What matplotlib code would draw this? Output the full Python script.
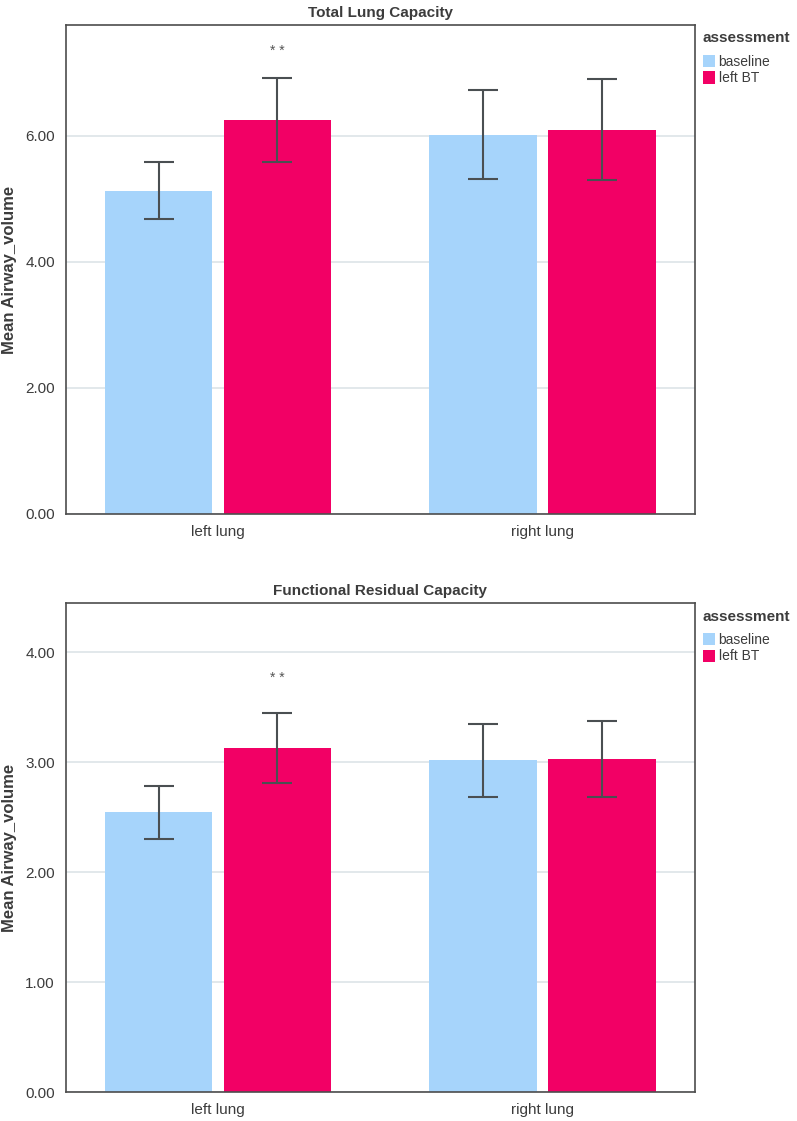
import numpy as np
import matplotlib
matplotlib.use("Agg")
import matplotlib.pyplot as plt
from matplotlib.patches import Patch

# data
lungs = ["left lung", "right lung"]
groups = ["baseline", "left BT"]

tlc_mean = {"baseline": [5.13, 6.02], "left BT": [6.25, 6.10]}
tlc_lo = {"baseline": [4.68, 5.32], "left BT": [5.59, 5.30]}
tlc_hi = {"baseline": [5.58, 6.73], "left BT": [6.92, 6.90]}

frc_mean = {"baseline": [2.545, 3.018], "left BT": [3.127, 3.033]}
frc_lo = {"baseline": [2.305, 2.68], "left BT": [2.81, 2.687]}
frc_hi = {"baseline": [2.785, 3.35], "left BT": [3.445, 3.378]}

tlc_ticks = [0, 2, 4, 6]
frc_ticks = [0, 1, 2, 3, 4]

colors = {"baseline": "#a6d4fb", "left BT": "#f20065"}
txt = "#3c3c3c"

plt.rcParams['font.family'] = ['Liberation Sans', 'DejaVu Sans']

fig = plt.figure(figsize=(7.97, 11.21), dpi=100)


def panel(rect, title, mean, lo, hi, ticks, ytop, star_y):
    ax = fig.add_axes(rect)
    x = np.arange(len(lungs))
    w = 0.332
    offs = [-0.183, 0.183]
    for g, off in zip(groups, offs):
        m = np.array(mean[g])
        err = np.vstack([m - np.array(lo[g]), np.array(hi[g]) - m])
        ax.bar(x + off, m, width=w, color=colors[g], zorder=2, label=g)
        ax.errorbar(x + off, m, yerr=err, fmt="none", ecolor="#4a4f52",
                    elinewidth=1.5, capsize=10.8, capthick=1.5, zorder=3)
    ax.text(x[0] + offs[1], star_y, "* *", ha="center", va="center",
            fontsize=10, color="#555555")
    ax.set_xlim(-0.468, 1.468)
    ax.set_ylim(0, ytop)
    ax.set_yticks(ticks)
    ax.set_yticklabels(["%.2f" % t for t in ticks])
    ax.set_xticks(x)
    ax.set_xticklabels(lungs)
    ax.tick_params(length=0, labelsize=11, colors=txt, pad=8)
    ax.yaxis.grid(True, color="#dde4e7", linewidth=1.2, zorder=0)
    ax.set_axisbelow(True)
    for s in ax.spines.values():
        s.set_color("#4d4d4d")
        s.set_linewidth(1.2)
    ax.set_title(title, fontsize=11, fontweight="bold", color=txt, pad=6)
    ax.set_ylabel("Mean Airway_volume", fontsize=12, fontweight="bold",
                  color=txt, labelpad=6)
    # legend outside on the right, title drawn separately
    ax.text(1.013, 0.973, "assessment", transform=ax.transAxes,
            fontsize=11, fontweight="bold", color=txt, ha="left", va="center")
    handles = [Patch(facecolor=colors[g], label=g) for g in groups]
    leg = ax.legend(handles=handles, loc="upper left",
                    bbox_to_anchor=(1.008, 0.945), frameon=False,
                    fontsize=10, handlelength=0.9, handleheight=1.0,
                    handletextpad=0.25, labelspacing=0.18, borderaxespad=0.0,
                    borderpad=0.2)
    for t in leg.get_texts():
        t.set_color(txt)
    return ax


panel([0.0828, 0.5415, 0.789, 0.4362], "Total Lung Capacity",
      tlc_mean, tlc_lo, tlc_hi, tlc_ticks, 7.76, 7.35)
panel([0.0828, 0.0256, 0.789, 0.4362], "Functional Residual Capacity",
      frc_mean, frc_lo, frc_hi, frc_ticks, 4.445, 3.77)

plt.savefig("out.png", dpi=100)
